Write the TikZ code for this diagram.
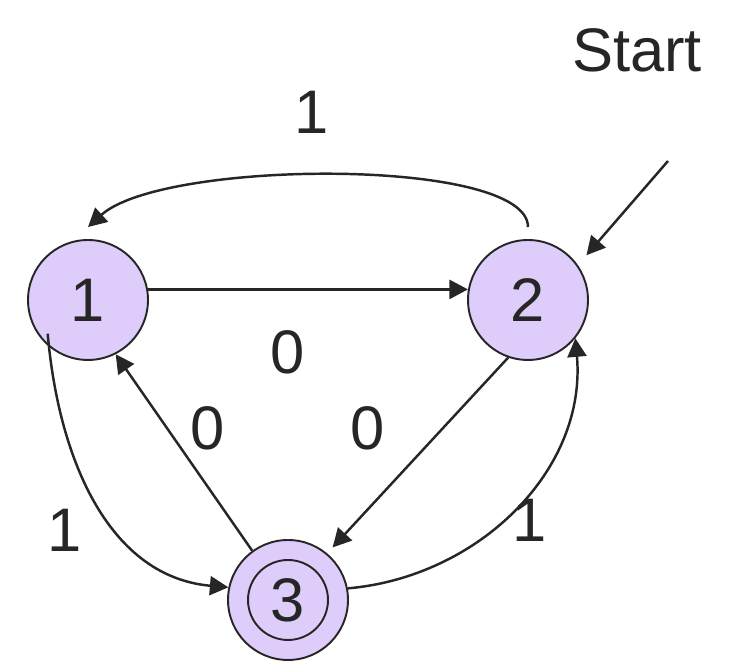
\documentclass[tikz,border=0pt]{standalone}
\usepackage{fontspec}
\setmainfont{Liberation Sans}
\usetikzlibrary{arrows.meta,positioning}
\definecolor{statefill}{RGB}{222,205,250}
\definecolor{inkgray}{RGB}{38,38,38}

\begin{document}
\begin{tikzpicture}[x=0.02cm,y=0.02cm]
  \tikzstyle{state}=[circle,draw=inkgray,line width=1.1pt,fill=statefill,
    minimum size=2.4cm,inner sep=0pt,text=inkgray,font=\fontsize{35}{40}\selectfont]
  \tikzstyle{lbl}=[text=inkgray,font=\fontsize{35}{40}\selectfont]
  \tikzstyle{f}=[-{Triangle[length=0.37cm,width=0.38cm]},inkgray,line width=1.4pt]

  \useasboundingbox (0,0) rectangle (748,668);

  % -- states --
  \node[state] (s1) at (88,368) {1};
  \node[state] (s2) at (528,368) {2};
  \node[state] (s3) at (288,68) {3};
  \draw[inkgray,line width=1.1pt] (s3.center) circle[radius=0.8cm];

  % -- start --
  \node[lbl] (start) at (637,618) {Start};
  \coordinate (startpt) at (668,507);
  \draw[f,shorten >=0.26cm] (startpt) -- (s2.35);

  % -- transitions --
  \draw[f] (s1.10) -- (s2.170);
  \draw[f] ([yshift=0.24cm]s2.north) .. controls +(0,70) and +(75,68) .. ([yshift=0.24cm]s1.north);
  \draw[f,shorten <=-0.26cm] (s1.230) to[out=-85,in=175] (s3.168);
  \draw[f] (s3.126) -- (s1.297);
  \draw[f,shorten >=0.16cm] (s2.251) -- (s3.50);
  \draw[f] (s3.11) to[out=5,in=-85] (s2.-39);

  % -- edge labels --
  \node[lbl] (l21) at (312,556) {1};
  \node[lbl] (l12) at (288,316) {0};
  \node[lbl] (l31) at (208,240) {0};
  \node[lbl] (l23) at (368,240) {0};
  \node[lbl] (l13) at (65,138) {1};
  \node[lbl] (l32) at (530,148) {1};
\end{tikzpicture}
\end{document}
